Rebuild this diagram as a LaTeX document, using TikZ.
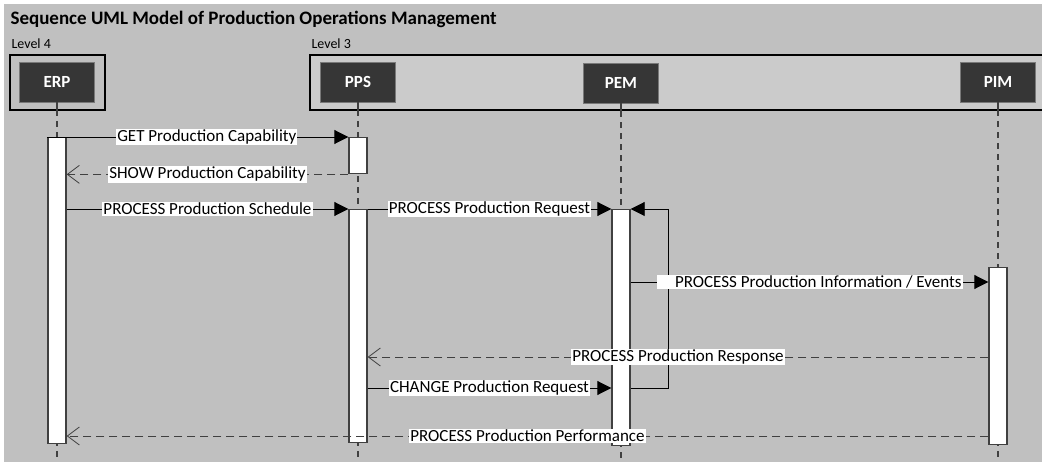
\documentclass[tikz,border=0pt]{standalone}
\usepackage{fontspec}
\setmainfont{Carlito}
\usepackage{tikz}
\usetikzlibrary{arrows.meta,positioning}

\definecolor{bggray}{HTML}{C0C0C0}
\definecolor{levelgray}{HTML}{CBCBCB}
\definecolor{headgray}{HTML}{363636}
\definecolor{linegray}{HTML}{404040}

\tikzset{
  head/.style={draw=linegray!70, fill=headgray, text=white, font=\bfseries\fontsize{17}{20}\selectfont,
    minimum width=75pt, minimum height=40pt, inner sep=0pt},
  frame/.style={draw=black, line width=1.6pt},
  lifeline/.style={draw=linegray, line width=1.2pt, dash pattern=on 6pt off 5pt},
  actbar/.style={draw=linegray, fill=white, line width=1.4pt, minimum width=18pt, inner sep=0pt, anchor=north},
  msg/.style={draw=black, line width=0.9pt, -{Triangle[length=14pt,width=14pt]}},
  reply/.style={draw=linegray, line width=0.9pt, dash pattern=on 8pt off 5pt,
    -{Straight Barb[length=12pt,width=18pt,line width=0.8pt]}},
  lbl/.style={fill=white, inner xsep=1pt, inner ysep=1pt, font=\fontsize{17}{20}\selectfont, text=black}
}

\begin{document}
\begin{tikzpicture}[x=1pt,y=-1pt]
\useasboundingbox (0,0) rectangle (1042,462);
\clip (0,0) rectangle (1042,462);
\fill[bggray] (4,4) rectangle (1042,462);
%title and levels
\node[anchor=west, font=\bfseries\fontsize{19}{22}\selectfont] (title) at (7,19) {Sequence UML Model of Production Operations Management};
\node[anchor=west, font=\fontsize{14}{16}\selectfont] (lvl4) at (8,44) {Level 4};
\node[anchor=west, font=\fontsize{14}{16}\selectfont] (lvl3) at (308,44) {Level 3};
\draw[frame] (10,55) rectangle (105,110);
\draw[frame, fill=levelgray] (310,55) rectangle (1050,110);

%heads
\node[head] (erp) at (57,82) {ERP};
\node[head] (pps) at (358,82) {PPS};
\node[head] (pem) at (621,83) {PEM};
\node[head] (pim) at (998,82) {PIM};

\coordinate (bottom) at (0,462);
\foreach \h in {erp,pps,pem,pim}{
  \draw[linegray, line width=1.2pt] (\h.south) -- ++(0,8);
  \draw[lifeline] ([yshift=-8pt]\h.south) -- (\h.south |- bottom);
}

%activation bars
\node[actbar, minimum height=306pt] (erpbar) at (57,137) {};
\node[actbar, minimum height=36pt] (ppsbar1) at (358,137) {};
\node[actbar, minimum height=233pt] (ppsbar2) at (358,209) {};
\node[actbar, minimum height=236pt] (pembar) at (621,209) {};
\node[actbar, minimum height=177pt] (pimbar) at (998,267) {};

\coordinate (r6) at (0,282);
\coordinate (r7) at (0,357);
\coordinate (r8) at (0,388);
\coordinate (r9) at (0,436);
\coordinate (loop) at (668,388);

%self message on PEM
\draw[msg] (pembar.east |- loop) -- (loop) |- (pembar.north east);

%messages
\draw[msg] (erpbar.north west) -- (ppsbar1.north west) node[lbl, pos=0.53] {GET Production Capability};
\draw[reply] (ppsbar1.south west) -- (erpbar.east |- ppsbar1.south) node[lbl, midway] {SHOW Production Capability};
\draw[msg] (erpbar.east |- ppsbar2.north) -- (ppsbar2.north west) node[lbl, midway] {PROCESS Production Schedule};
\draw[msg] (ppsbar2.north east) -- (pembar.north west) node[lbl, midway] {PROCESS Production Request};
\draw[msg] (pembar.east |- r6) -- (pimbar.west |- r6) node[lbl, midway, text width=304pt, align=flush right] {PROCESS Production Information / Events};
\draw[reply] (pimbar.west |- r7) -- (ppsbar2.east |- r7) node[lbl, midway] {PROCESS Production Response};
\draw[msg] (ppsbar2.east |- r8) -- (pembar.west |- r8) node[lbl, midway] {CHANGE Production Request};
\draw[reply] (pimbar.west |- r9) -- (erpbar.east |- r9) node[lbl, midway] {PROCESS Production Performance};
\end{tikzpicture}
\end{document}
